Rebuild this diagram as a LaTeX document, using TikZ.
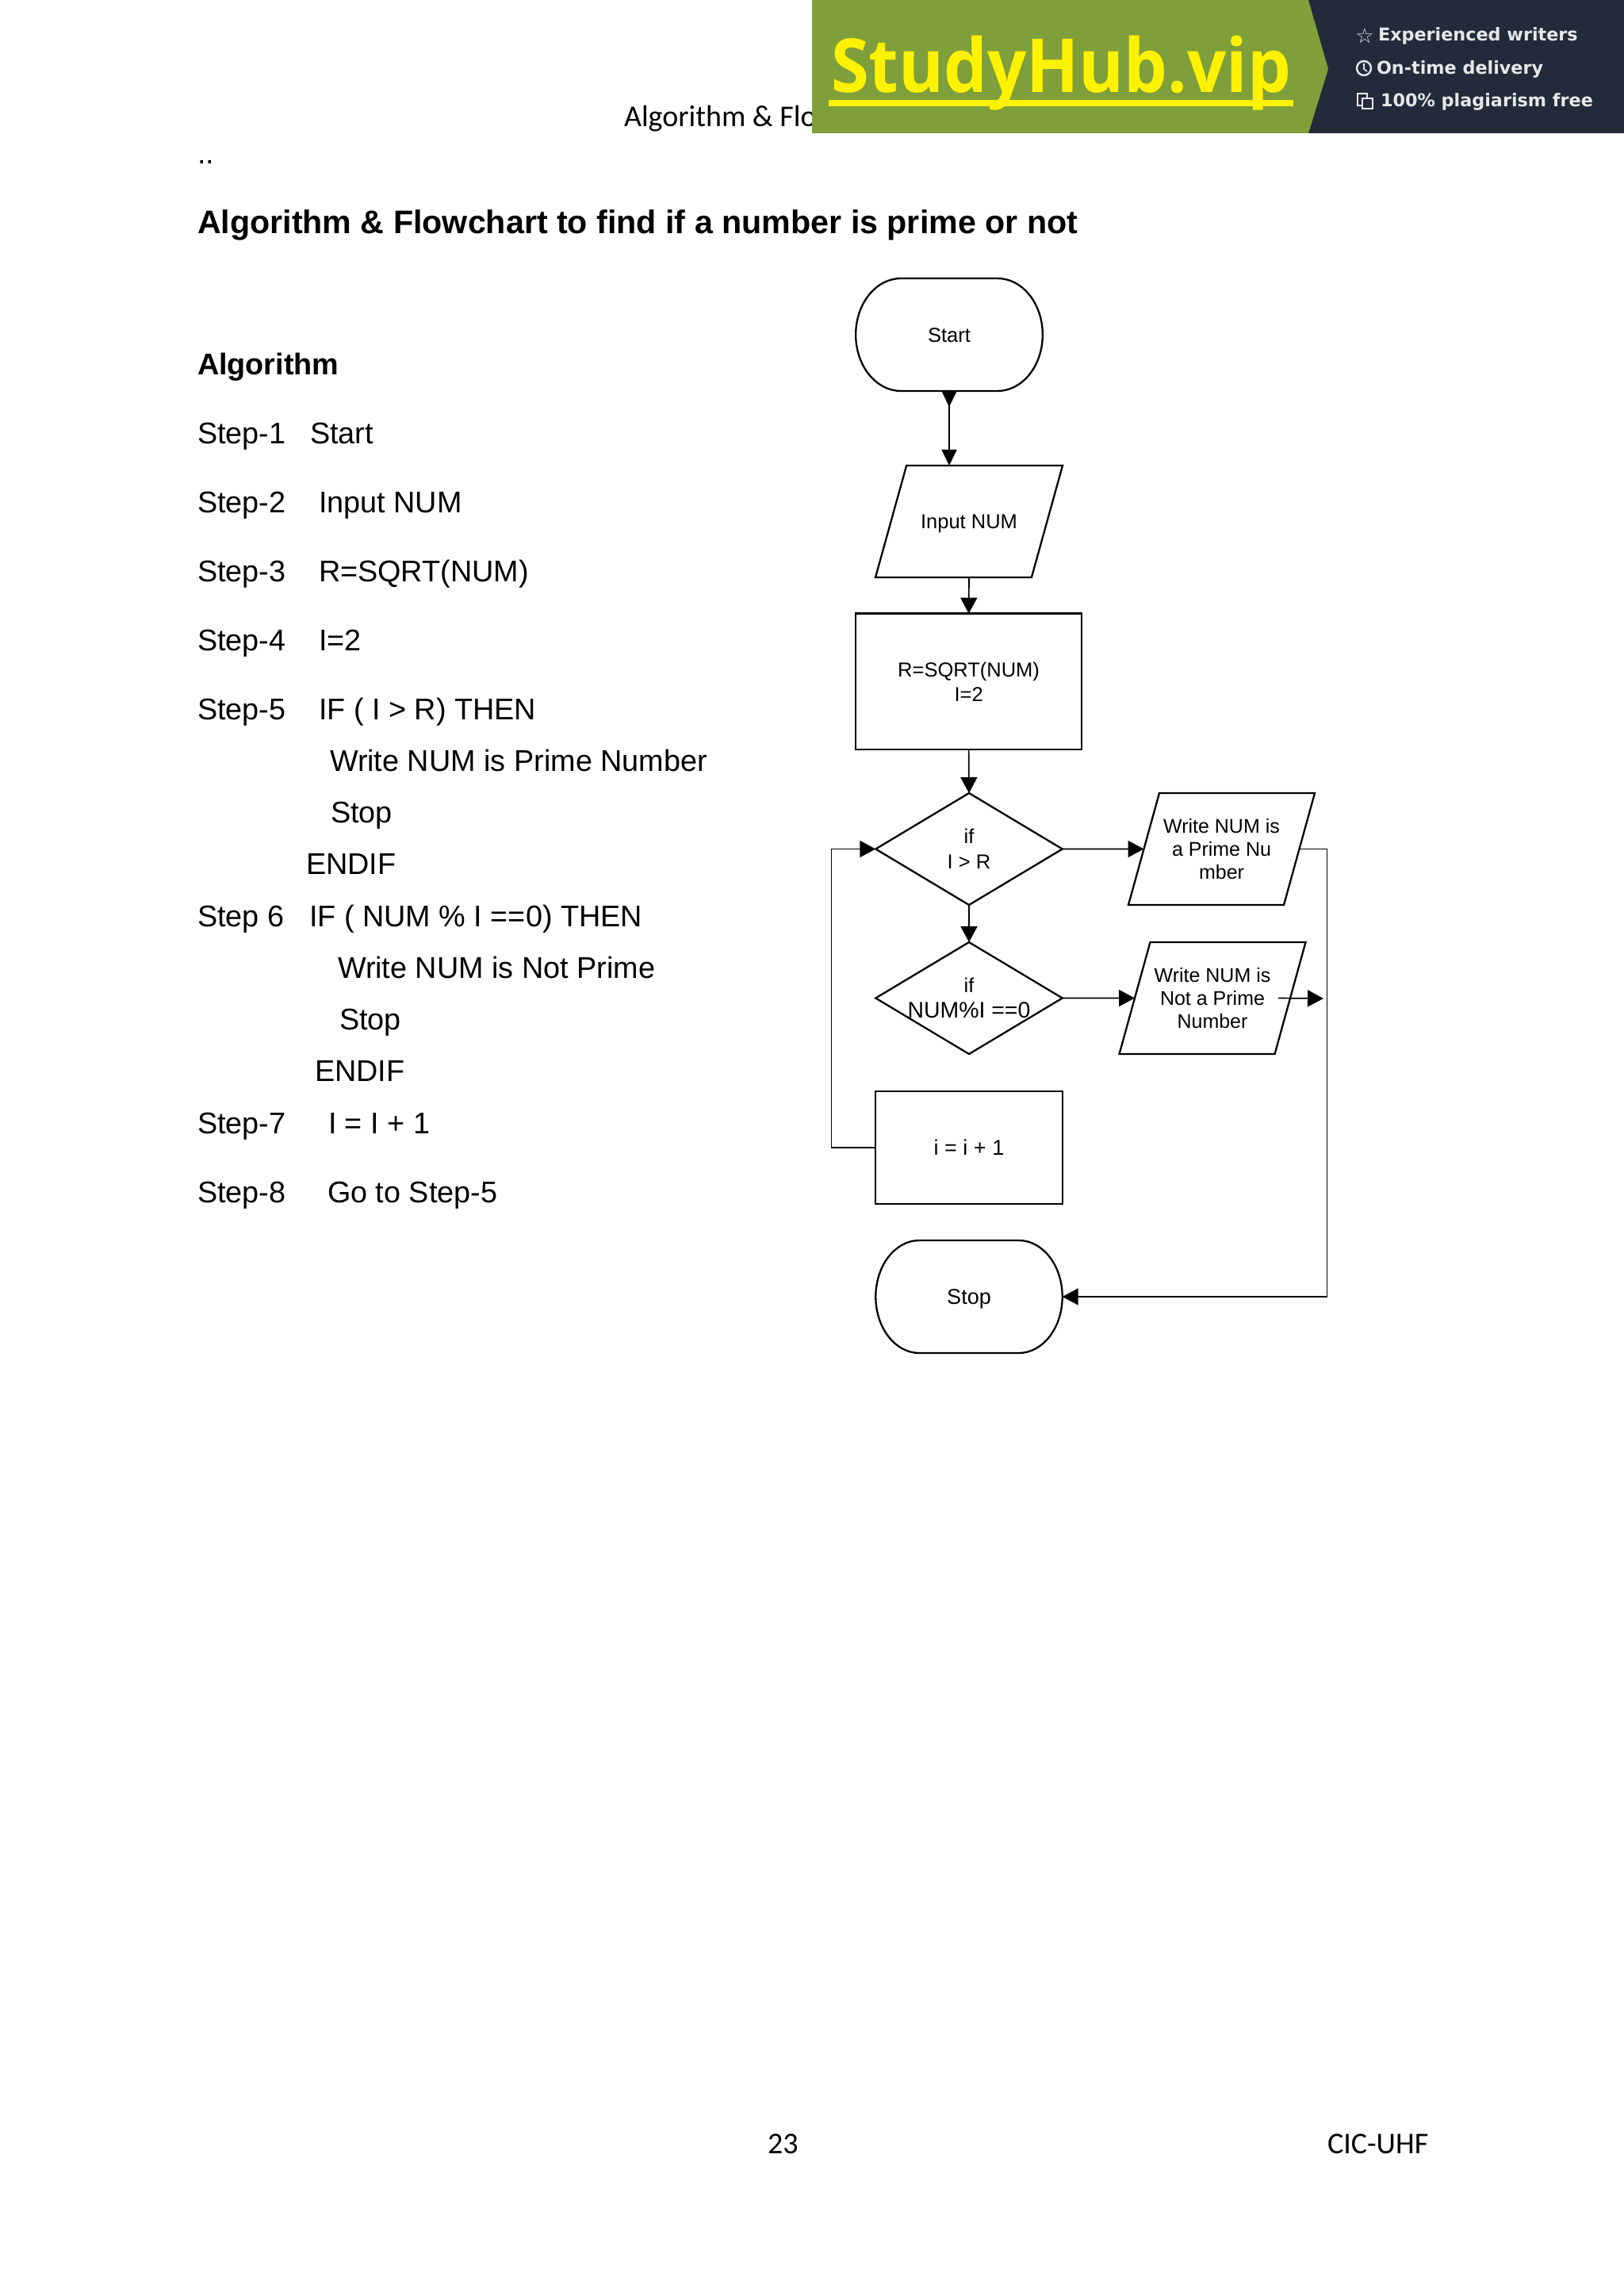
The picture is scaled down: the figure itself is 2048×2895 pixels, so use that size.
\documentclass[tikz,border=0pt]{standalone}
\usepackage{fontspec}
\setmainfont{Liberation Sans}
\newfontfamily\calfont{Carlito}
\newfontfamily\hubfont{Open Sans}
\newfontfamily\djfont{DejaVu Sans}
\usetikzlibrary{shapes.geometric,arrows.meta}
\definecolor{hubgreen}{HTML}{7F9F3A}
\definecolor{hubdark}{HTML}{232B3B}
\definecolor{hubyellow}{HTML}{FFF200}
\definecolor{hubtext}{HTML}{E6E8EA}
% centred label of tiny size, so the shape keeps its exact size
\newcommand{\lbl}[3]{\vbox to 2pt{\vskip 3pt\vss\hbox to 2pt{\hss\fontsize{#1}{#2}\selectfont\begin{tabular}{@{}c@{}}#3\end{tabular}\hss}\vss}}
\newcommand{\termpath}[3]{%
  \draw[shapeline] ([xshift=#2pt]#1.north west) -- ([xshift=-#2pt]#1.north east)
    arc[start angle=90,end angle=-90,x radius=#2pt,y radius=#3pt]
    -- ([xshift=#2pt]#1.south west)
    arc[start angle=270,end angle=90,x radius=#2pt,y radius=#3pt] -- cycle;}
\newcommand{\stepln}[5]{%
  \node[bodytxt] (#1a) at (249,-#2) {#3};
  \node[bodytxt] (#1b) at (#4,-#2) {#5};}
\tikzset{
  shapeline/.style={draw=black,line width=1.15pt},
  conn/.style={draw=black,line width=.85pt,-{Triangle[length=10pt,width=10.5pt]}},
  boxnode/.style={shapeline,rectangle,inner sep=0pt,outer sep=0pt},
  termnode/.style={rectangle,inner sep=0pt,outer sep=0pt},
  decnode/.style={shapeline,diamond,aspect=1,inner sep=0pt,outer sep=0pt,minimum width=117.7pt,minimum height=70.5pt},
  ionode/.style={shapeline,trapezium,trapezium stretches=true,inner sep=0pt,outer sep=0pt,
    trapezium left angle=#1,trapezium right angle=180-#1},
  bodytxt/.style={anchor=base west,inner sep=0pt,outer sep=0pt,font=\fontsize{18.9}{23}\selectfont},
  boldtxt/.style={anchor=base west,inner sep=0pt,outer sep=0pt,font=\bfseries},
  caltxt/.style={anchor=base west,inner sep=0pt,outer sep=0pt,font=\calfont\fontsize{19}{23}\selectfont},
  hubtxt/.style={anchor=base west,inner sep=0pt,outer sep=0pt,text=hubtext,font=\djfont\bfseries\fontsize{11.15}{13}\selectfont},
}
\begin{document}
\begin{tikzpicture}[x=.5pt,y=.5pt]
\useasboundingbox (0,0) rectangle (2048,-2895);
\fill[white] (0,0) rectangle (2048,-2895);

% header and footer
\node[caltxt] (header) at (787,-160) {Algorithm \& Flo};
\node[caltxt] (pageno) at (968,-2715) {23};
\node[caltxt] (org) at (1674,-2715) {CIC-UHF};

% banner
\fill[hubdark] (1640,0) rectangle (2048,-168);
\fill[hubgreen] (1024,0) -- (1650,0) -- (1675,-87) -- (1650,-168) -- (1024,-168) -- cycle;
\node[anchor=base west,inner sep=0pt,outer sep=0pt,text=hubyellow] (hubname) at (1048,-117)
  {\resizebox{290pt}{\height}{\hubfont\bfseries\fontsize{47}{55}\selectfont StudyHub.vip}};
\fill[hubyellow] (1045,-126) rectangle (1631,-134);
\node[anchor=center,inner sep=0pt,text=hubtext] (hubstar) at (1721,-45) {\djfont\fontsize{13}{15}\selectfont ☆};
\node[hubtxt] (hubone) at (1738,-52) {Experienced writers};
\node[hubtxt] (hubtwo) at (1736,-94) {On-time delivery};
\node[hubtxt] (hubthree) at (1741,-135) {100\% plagiarism free};
\draw[hubtext,line width=1.2pt] (1720,-86) circle[radius=9];
\draw[hubtext,line width=.8pt] (1720,-80) -- (1720,-87) -- (1724,-90);
\draw[hubtext,line width=.9pt] (1712,-118) rectangle (1724,-133);
\draw[hubtext,line width=.9pt,fill=hubdark] (1718,-124) rectangle (1731,-137);

% text column
\node[bodytxt] (dots) at (249,-207) {..};
\node[boldtxt,font=\bfseries\fontsize{20.6}{25}\selectfont] (title) at (249,-294.5) {Algorithm \& Flowchart to find if a number is prime or not};
\node[boldtxt,font=\bfseries\fontsize{18.9}{23}\selectfont] (algo) at (249,-472) {Algorithm};
\stepln{sa}{559}{Step-1}{391}{Start}
\stepln{sb}{646}{Step-2}{402}{Input NUM}
\stepln{sc}{733}{Step-3}{402}{R=SQRT(NUM)}
\stepln{sd}{820}{Step-4}{402}{I=2}
\stepln{se}{907}{Step-5}{402}{IF ( I > R) THEN}
\node[bodytxt] (sf) at (416,-972) {Write NUM is Prime Number};
\node[bodytxt] (sg) at (417,-1037) {Stop};
\node[bodytxt] (sh) at (386,-1102) {ENDIF};
\stepln{si}{1168}{Step 6}{390}{IF ( NUM \% I ==0) THEN}
\node[bodytxt] (sj) at (426,-1233) {Write NUM is Not Prime};
\node[bodytxt] (sk) at (428,-1298) {Stop};
\node[bodytxt] (sl) at (397,-1363) {ENDIF};
\stepln{sm}{1429}{Step-7}{414}{I = I + 1}
\stepln{sn}{1516}{Step-8}{413}{Go to Step-5}

% flowchart nodes
\node[termnode,minimum width=117.85pt,minimum height=71pt] (start) at (1197,-422) {\lbl{12.75}{15}{Start}};
\termpath{start}{28.5}{35.5}
\node[ionode=76.06,minimum width=118pt,minimum height=70.5pt] (input) at (1222,-657.5) {\lbl{12.75}{15}{Input NUM}};
\node[boxnode,minimum width=142.35pt,minimum height=85.7pt] (calc) at (1221.6,-859.3) {\lbl{12.75}{15.5}{R=SQRT(NUM)\\I=2}};
\node[decnode] (dec1) at (1222,-1070.5) {\lbl{12.75}{16}{if\\I > R}};
\node[ionode=76.06,minimum width=117.5pt,minimum height=70.5pt] (wp) at (1540.5,-1070.5) {\lbl{12.5}{14.5}{Write NUM is\\a Prime Nu\\mber}};
\node[decnode] (dec2) at (1222,-1258.5) {\lbl{12.75}{16}{if\\\fontsize{14.2}{16}\selectfont NUM\%I ==0}};
\node[ionode=76.06,minimum width=117.5pt,minimum height=70.5pt] (wn) at (1529,-1258.5) {\lbl{12.5}{14.5}{Write NUM is\\Not a Prime\\Number}};
\node[boxnode,minimum width=117.7pt,minimum height=71pt] (incr) at (1222,-1447) {\lbl{13.5}{15}{i = i + 1}};
\node[termnode,minimum width=117.7pt,minimum height=71pt] (stop) at (1222,-1635) {\lbl{13.5}{15}{Stop}};
\termpath{stop}{27.5}{35.5}

% connectors
\coordinate (loopleft) at (1048.5,-1259);
\coordinate (loopright) at (1673.5,-1259);
\coordinate (wnout) at (1669,-1259);
\draw[conn,{Triangle[length=10pt,width=9.5pt,reversed]}-{Triangle[length=10pt,width=9.5pt]}] (start.south) -- (start.south |- input.north);
\draw[conn] (input.south) -- (calc.north);
\draw[conn] (calc.south) -- (dec1.north);
\draw[conn] (dec1.south) -- (dec2.north);
\draw[conn] (dec1.east) -- (wp.west);
\draw[conn] (dec2.east) -- (wn.west);
\draw[conn] ([xshift=-7.5pt]wn.east) -- (wnout);
\draw[conn] (incr.west) -| (loopleft) |- (dec1.west);
\draw[conn] (wp.east) -| (loopright) |- (stop.east);
\end{tikzpicture}
\end{document}
